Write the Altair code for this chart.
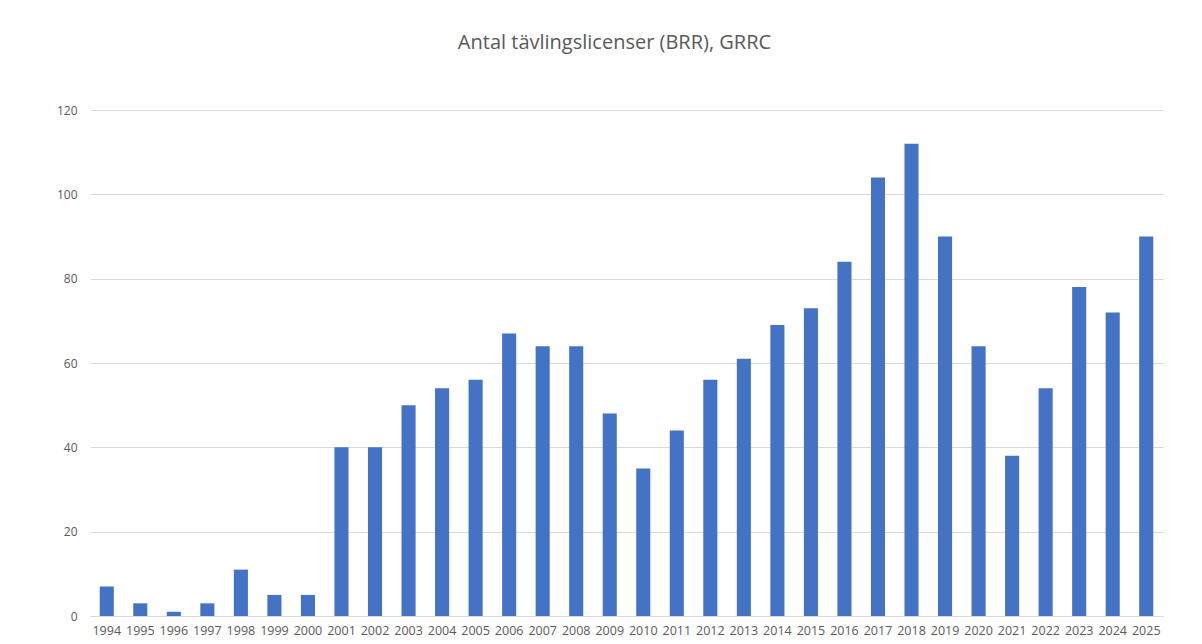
import altair as alt
import pandas as pd

years = [str(y) for y in range(1994, 2026)]
values = [7, 3, 1, 3, 11, 5, 5, 40, 40, 50, 54, 56, 67, 64, 64, 48, 35, 44,
          56, 61, 69, 73, 84, 104, 112, 90, 64, 38, 54, 78, 72, 90]
y_ticks = [0, 20, 40, 60, 80, 100, 120]
title = "Antal tävlingslicenser (BRR), GRRC"

df = pd.DataFrame({"year": years, "value": values})

font = "Open Sans"
gray = "#595959"

chart = alt.Chart(df).mark_bar(color="#4472C4").encode(
    x=alt.X("year:N", sort=years,
            scale=alt.Scale(paddingInner=0.58, paddingOuter=0.29),
            axis=alt.Axis(title=None, labelAngle=0, labelOverlap=False,
                          ticks=False, domainColor="#d9d9d9", labelPadding=8,
                          labelFont=font, labelFontSize=12.5, labelColor=gray)),
    y=alt.Y("value:Q", scale=alt.Scale(domain=[0, 120], nice=False),
            axis=alt.Axis(title=None, values=y_ticks, domain=False, ticks=False,
                          gridColor="#d9d9d9", labelPadding=13,
                          labelFont=font, labelFontSize=12, labelColor=gray)),
).properties(
    width=1073, height=506,
    title=alt.TitleParams(title, font=font, fontSize=20, fontWeight="normal",
                          color=gray, anchor="middle", offset=51, dx=-12),
    autosize=alt.AutoSizeParams(type="none"),
    padding={"left": 82, "top": 102, "right": 30, "bottom": 22},
).configure_view(stroke=None)

chart.save("out.html", embed_options={"renderer": "svg", "actions": False})
